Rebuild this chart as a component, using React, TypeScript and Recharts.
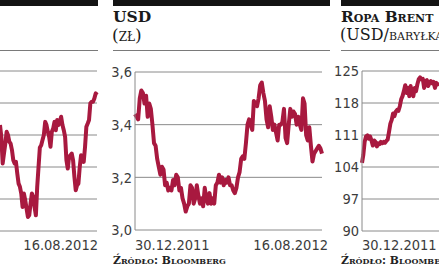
import { CartesianGrid, Line, LineChart, XAxis, YAxis } from 'recharts'

// indeks WIG-like (lewy panel, skala niewidoczna)
const leftValues = [
  3.31, 2.94, 2.11, 2.42, 2.73, 3.1, 3.0, 2.79, 2.73, 2.53, 2.21, 2.11, 2.16, 1.8, 1.48, 1.38, 1.17,
  0.75, 1.17, 0.96, 0.7, 0.44, 0.49, 0.86, 1.17, 1.06, 0.75, 0.49, 1.38, 2.0, 2.61, 2.68, 2.84, 3.0,
  3.41, 3.31, 3.1, 2.94, 2.63, 3.1, 3.2, 3.41, 3.15, 3.47, 3.31, 3.41, 3.57, 3.31, 3.15, 2.94, 2.21,
  1.95, 2.32, 2.37, 2.42, 2.21, 1.69, 1.27, 1.43, 1.48, 2.0, 2.37, 2.32, 2.16, 2.63, 3.26, 3.36, 3.47,
  3.99, 4.04, 4.04, 4.14, 4.3, 4.25,
]
const leftDates = ['16.08.2012']

// USD (zł)
const usdValues = [
  3.44, 3.43, 3.42, 3.5, 3.53, 3.52, 3.48, 3.51, 3.43, 3.48, 3.46, 3.4, 3.33, 3.32, 3.27, 3.24, 3.21,
  3.24, 3.23, 3.17, 3.18, 3.15, 3.16, 3.15, 3.19, 3.17, 3.21, 3.2, 3.15, 3.16, 3.12, 3.1, 3.07, 3.09,
  3.1, 3.17, 3.16, 3.1, 3.12, 3.17, 3.13, 3.1, 3.12, 3.09, 3.16, 3.12, 3.1, 3.14, 3.1, 3.12, 3.1, 3.17,
  3.18, 3.21, 3.18, 3.2, 3.17, 3.19, 3.18, 3.2, 3.17, 3.17, 3.15, 3.14, 3.16, 3.2, 3.22, 3.27, 3.28,
  3.27, 3.33, 3.4, 3.42, 3.4, 3.38, 3.49, 3.48, 3.47, 3.5, 3.55, 3.56, 3.52, 3.49, 3.42, 3.39, 3.47,
  3.43, 3.38, 3.4, 3.37, 3.34, 3.4, 3.4, 3.41, 3.46, 3.35, 3.33, 3.4, 3.46, 3.43, 3.45, 3.44, 3.4, 3.43,
  3.4, 3.38, 3.5, 3.48, 3.36, 3.34, 3.39, 3.32, 3.26, 3.29, 3.3, 3.31, 3.32, 3.31, 3.29,
]
const usdTicks = [3.0, 3.2, 3.4, 3.6]
const usdDates = ['30.12.2011', '16.08.2012']

// Ropa Brent (USD/baryłka)
const brentValues = [
  104.9, 106.7, 109.6, 110.7, 110.9, 110.2, 110.7, 109.8, 108.7, 109.8, 109.5, 108.5, 109.2, 109.0,
  109.5, 109.2, 109.5, 109.3, 109.7, 110.0, 111.7, 113.5, 114.3, 115.7, 115.1, 116.1, 116.5, 116.3,
  117.3, 118.8, 119.5, 120.6, 121.9, 120.2, 121.3, 119.5, 121.7, 120.2, 119.5, 121.3, 120.6, 122.1,
  123.2, 123.6, 123.2, 123.3, 121.3, 122.8, 123.0, 121.7, 122.4, 122.8, 122.3, 122.6, 121.3, 122.4,
  122.1, 122.4,
]
const brentTicks = [90, 97, 104, 111, 118, 125]
const brentDates = ['30.12.2011']

const LINE = '#a8193f'
const GRID = '#8a8a8a'
const TICK_FONT = '"Liberation Sans Narrow", "DejaVu Sans Condensed", "Liberation Sans", sans-serif'
const SERIF = '"DejaVu Serif", serif'
const DATE_Y = 190 // baseline w układzie svg (top wykresu = 60)

const toRows = (vals: number[]) => vals.map((v, i) => ({ i, v }))

function dateTick(labels: string[], startFirst: boolean, shiftEnd: number) {
  return (p: any) => {
    const first = p.payload.value === 0
    const label = labels.length > 1 ? (first ? labels[0] : labels[1]) : labels[0]
    const anchor = first && startFirst ? 'start' : 'end'
    return (
      <text x={p.x + (anchor === 'end' ? shiftEnd : 0)} y={DATE_Y} textAnchor={anchor} fontFamily={TICK_FONT} fontSize={14.5} fill="#3c3c3c">
        {label}
      </text>
    )
  }
}

const valTick = (fmt: (v: number) => string) => (p: any) => (
  <text x={p.x} y={p.y} dy="0.36em" textAnchor="end" fontFamily={TICK_FONT} fontSize={14.5} fill="#3c3c3c">
    {fmt(p.payload.value)}
  </text>
)

function Header({ left, width }: { left: number; width: number }) {
  return (
    <>
      <div style={{ position: 'absolute', left, top: 0, width, height: 6, background: '#141414' }} />
      <div style={{ position: 'absolute', left, top: 50, width, height: 1, background: '#7a7a7a' }} />
    </>
  )
}

const source = (left: number) => (
  <div style={{ position: 'absolute', left, top: 254, fontFamily: SERIF, fontSize: 10.8, fontWeight: 'bold', fontVariant: 'small-caps', lineHeight: '13px', color: '#222', whiteSpace: 'nowrap' }}>
    Źródło: Bloomberg
  </div>
)

export default function App() {
  const left = toRows(leftValues)
  const usd = toRows(usdValues)
  const brent = toRows(brentValues)
  return (
    <div style={{ position: 'fixed', left: 0, top: 0, width: 439, height: 268, overflow: 'hidden', background: '#fff' }}>
      <Header left={0} width={98} />
      <Header left={113} width={217} />
      <Header left={341} width={98} />

      <div style={{ position: 'absolute', left: 113, top: 8, fontFamily: SERIF, fontWeight: 'bold', fontSize: 15.5, lineHeight: '18px', color: '#1a1a1a' }}>USD</div>
      <div style={{ position: 'absolute', left: 112, top: 25, fontFamily: SERIF, fontSize: 17, lineHeight: '20px', fontVariant: 'small-caps', color: '#1a1a1a' }}>(zł)</div>

      <div style={{ position: 'absolute', left: 341, top: 8, fontFamily: SERIF, fontWeight: 'bold', fontSize: 15.3, lineHeight: '18px', fontVariant: 'small-caps', color: '#1a1a1a', whiteSpace: 'nowrap' }}>Ropa Brent</div>
      <div style={{ position: 'absolute', left: 340, top: 25, fontFamily: SERIF, fontSize: 16, lineHeight: '20px', fontVariant: 'small-caps', color: '#1a1a1a', whiteSpace: 'nowrap' }}>(USD/baryłka)</div>

      {source(113)}
      {source(341)}

      <div style={{ position: 'absolute', left: 0, top: 60 }}>
        <LineChart width={103} height={200} data={left} margin={{ top: 11, right: 6, left: 0, bottom: 0 }}>
          <CartesianGrid vertical={false} stroke={GRID} strokeWidth={1} />
          <YAxis hide domain={[0, 5]} ticks={[0, 1, 2, 3, 4, 5]} />
          <XAxis dataKey="i" type="number" domain={[0, leftValues.length - 1]} ticks={[leftValues.length - 1]} interval={0} height={29} axisLine={false} tickLine={false} tickSize={0} tick={dateTick(leftDates, false, 1)} />
          <Line dataKey="v" stroke={LINE} strokeWidth={4} dot={false} isAnimationActive={false} strokeLinejoin="round" />
        </LineChart>
      </div>

      <div style={{ position: 'absolute', left: 105, top: 60 }}>
        <LineChart width={230} height={200} data={usd} margin={{ top: 12, right: 13, left: 0, bottom: 0 }}>
          <CartesianGrid vertical={false} stroke={GRID} strokeWidth={1} />
          <YAxis domain={[3.0, 3.6]} ticks={usdTicks} width={30} tickSize={0} tickMargin={3} tickLine={false} axisLine={{ stroke: GRID }} tick={valTick((v) => v.toFixed(1).replace('.', ','))} />
          <XAxis dataKey="i" type="number" domain={[0, usdValues.length - 1]} ticks={[0, usdValues.length - 1]} interval={0} height={30} axisLine={false} tickLine={false} tickSize={0} tick={dateTick(usdDates, true, 6)} />
          <Line dataKey="v" stroke={LINE} strokeWidth={4} dot={false} isAnimationActive={false} strokeLinejoin="round" />
        </LineChart>
      </div>

      <div style={{ position: 'absolute', left: 320, top: 60 }}>
        <LineChart width={119} height={200} data={brent} margin={{ top: 11, right: 0, left: 0, bottom: 0 }}>
          <CartesianGrid vertical={false} stroke={GRID} strokeWidth={1} />
          <YAxis domain={[90, 125]} ticks={brentTicks} width={42} tickSize={0} tickMargin={3} tickLine={false} axisLine={{ stroke: GRID }} tick={valTick((v) => String(v))} />
          <XAxis dataKey="i" type="number" domain={[0, brentValues.length - 1]} ticks={[0]} interval={0} height={29} axisLine={false} tickLine={false} tickSize={0} tick={dateTick(brentDates, true, 0)} />
          <Line dataKey="v" stroke={LINE} strokeWidth={4} dot={false} isAnimationActive={false} strokeLinejoin="round" />
        </LineChart>
      </div>
    </div>
  )
}
